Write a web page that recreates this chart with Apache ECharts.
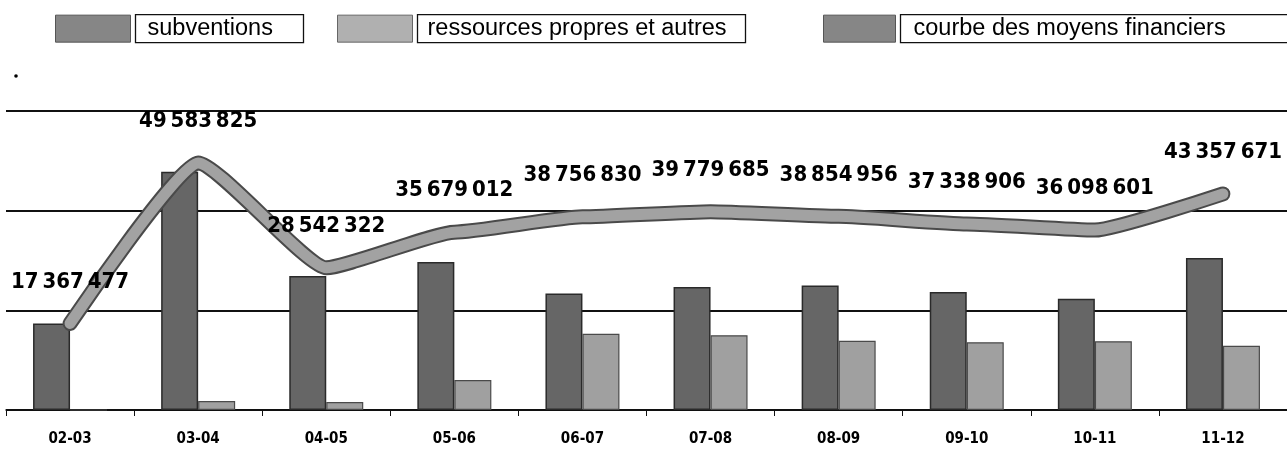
<!DOCTYPE html>
<html>
<head>
<meta charset="utf-8">
<script src="https://cdn.jsdelivr.net/npm/echarts@6/dist/echarts.min.js"></script>
<style>
  html, body { margin: 0; padding: 0; background: #fff; }
  #chart { width: 1287px; height: 472px; }
</style>
</head>
<body>
<div id="chart"></div>
<script>
  var categories = ['02-03', '03-04', '04-05', '05-06', '06-07', '07-08', '08-09', '09-10', '10-11', '11-12'];
  var subventions = [17367477, 47800000, 26900000, 29700000, 23400000, 24700000, 25000000, 23700000, 22300000, 30500000];
  var ressources = [0, 1800000, 1600000, 6000000, 15300000, 15000000, 13900000, 13600000, 13800000, 12900000];
  var moyens = [17367477, 49583825, 28542322, 35679012, 38756830, 39779685, 38854956, 37338906, 36098601, 43357671];

  var numFont = '"Liberation Sans Narrow", "DejaVu Sans Condensed", "Roboto Condensed", sans-serif';
  var legFont = '"Liberation Sans", Arial, sans-serif';

  // narrow no-break space as thousands separator
  function fmt(v) {
    return String(v).replace(/\B(?=(\d{3})+(?!\d))/g, '\u202F');
  }

  function legendBox(name, left, swW, padL, boxWidth, swatch, border) {
    return {
      left: left,
      top: 14,
      padding: 0,
      itemWidth: swW,
      itemHeight: 27,
      selectedMode: false,
      data: [{
        name: name,
        icon: 'rect',
        itemStyle: { color: swatch, borderColor: border, borderWidth: 1 }
      }],
      textStyle: {
        fontFamily: legFont,
        fontSize: 23.5,
        color: '#000',
        width: boxWidth,
        height: 27,
        lineHeight: 27,
        padding: [1, 0, 0, padL],
        borderColor: '#111',
        borderWidth: 1.3
      }
    };
  }

  var chart = echarts.init(document.getElementById('chart'));
  chart.setOption({
    animation: false,
    backgroundColor: '#fff',
    legend: [
      legendBox('subventions', 55, 75, 12, 156, '#868686', '#555'),
      legendBox('ressources propres et autres', 337, 75, 10, 318, '#b0b0b0', '#666'),
      legendBox('courbe des moyens financiers', 823, 72, 13, 380, '#868686', '#555')
    ],
    grid: { left: 6, top: 111, width: 1292, height: 299 },
    xAxis: {
      type: 'category',
      data: categories,
      axisLine: { lineStyle: { color: '#111', width: 1.5 } },
      axisTick: { show: true, length: 6, lineStyle: { color: '#111', width: 1 } },
      axisLabel: {
        margin: 22,
        fontFamily: numFont,
        fontWeight: 'bold',
        fontSize: 15,
        color: '#000'
      }
    },
    yAxis: {
      type: 'value',
      min: 0,
      max: 60000000,
      interval: 20000000,
      axisLabel: { show: false },
      axisLine: { show: false },
      axisTick: { show: false },
      splitLine: { lineStyle: { color: '#111', width: 2 } }
    },
    series: [
      {
        name: 'subventions',
        type: 'bar',
        data: subventions,
        barWidth: 37,
        barGap: '0%',
        itemStyle: { color: '#666666', borderColor: '#2a2a2a', borderWidth: 1.5 }
      },
      {
        name: 'ressources propres et autres',
        type: 'bar',
        data: ressources,
        barWidth: 37,
        barGap: '0%',
        itemStyle: { color: '#a0a0a0', borderColor: '#4a4a4a', borderWidth: 1.2 }
      },
      {
        name: 'contour',
        type: 'line',
        data: moyens,
        smooth: 0.15,
        smoothMonotone: 'x',
        showSymbol: false,
        silent: true,
        lineStyle: { color: '#4a4a4a', width: 15, cap: 'round', join: 'round' },
        z: 3
      },
      {
        name: 'courbe des moyens financiers',
        type: 'line',
        data: moyens,
        smooth: 0.15,
        smoothMonotone: 'x',
        symbol: 'circle',
        symbolSize: 1,
        showSymbol: true,
        lineStyle: { color: '#a2a2a2', width: 11, cap: 'round', join: 'round' },
        itemStyle: { color: '#a2a2a2' },
        label: {
          show: true,
          position: 'top',
          distance: 30,
          fontFamily: numFont,
          fontWeight: 'bold',
          fontSize: 22,
          color: '#000',
          formatter: function (p) { return fmt(p.value); }
        },
        z: 4
      }
    ],
    graphic: [
      { type: 'circle', shape: { cx: 16, cy: 76, r: 1.8 }, style: { fill: '#000' } }
    ]
  });
</script>
</body>
</html>
